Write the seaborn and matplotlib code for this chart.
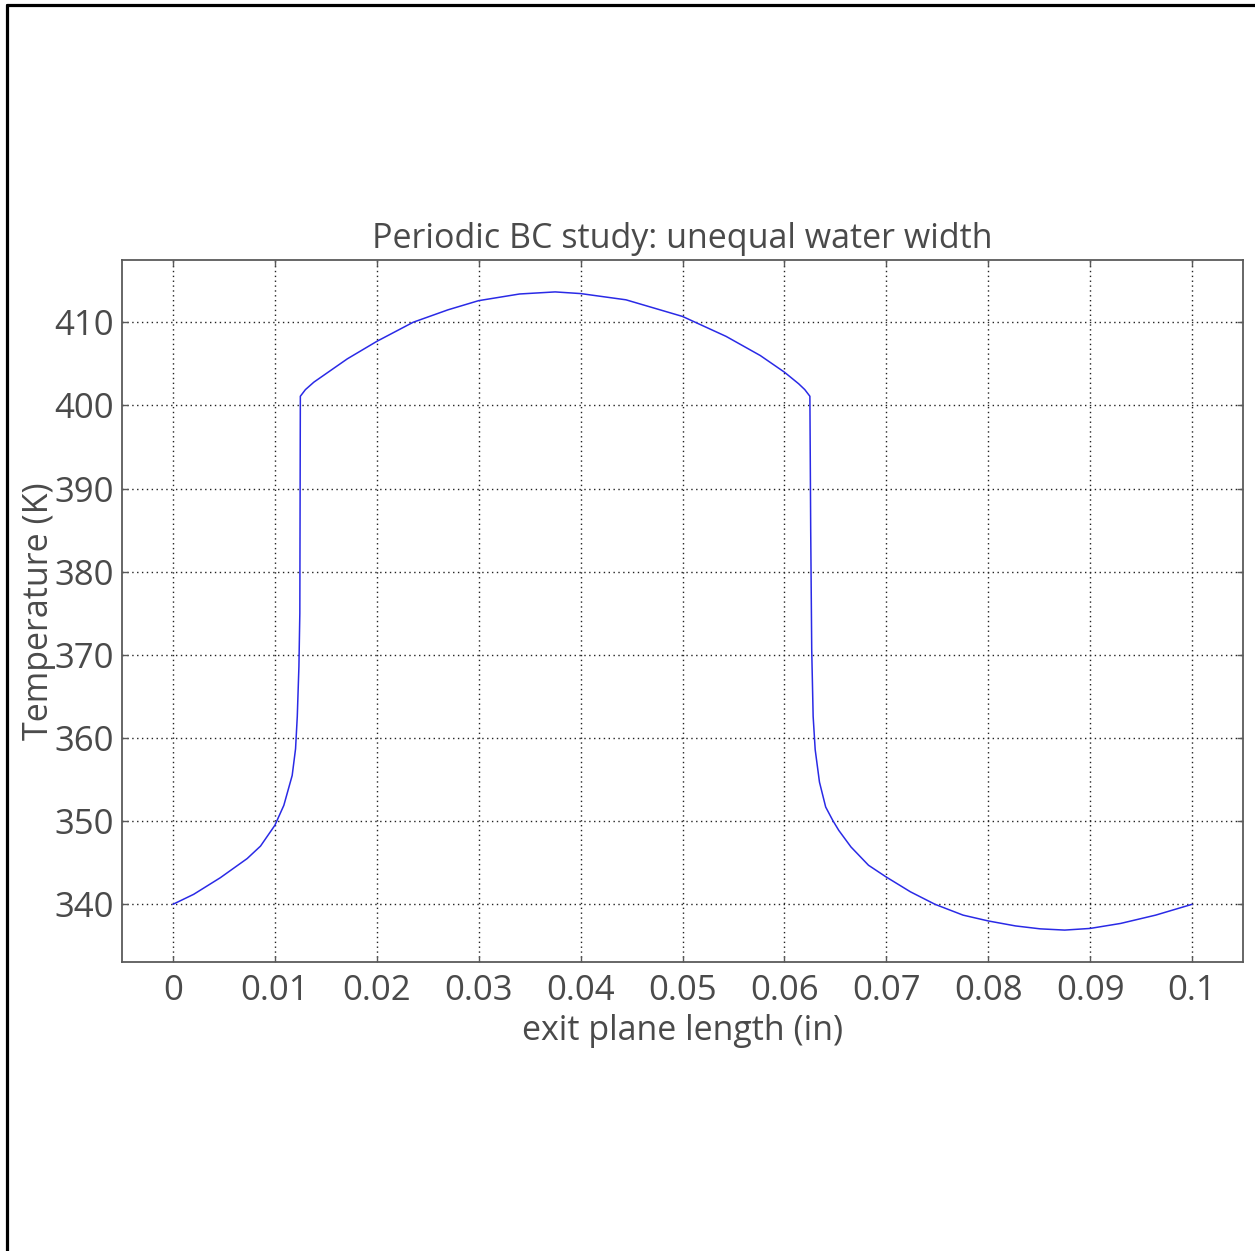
import matplotlib
matplotlib.use("Agg")
import matplotlib.pyplot as plt
from matplotlib.lines import Line2D
import seaborn as sns
import pandas as pd

# Data
x_in = [0.0, 0.00203, 0.00465, 0.00728, 0.00859, 0.0100, 0.01088, 0.0117,
        0.01203, 0.0122, 0.01236, 0.01245, 0.01250,
        0.01300, 0.01383, 0.01711, 0.0200, 0.02357, 0.0270, 0.0300, 0.03401, 0.0375,
        0.0400, 0.04445, 0.0500, 0.05428, 0.05763, 0.0600, 0.0614, 0.0620, 0.0625,
        0.06258, 0.06268, 0.06282, 0.06302, 0.06344, 0.06405, 0.06474, 0.06533,
        0.06653, 0.06825, 0.06997, 0.07237, 0.07478, 0.07753, 0.0800, 0.08268,
        0.08509, 0.0875, 0.0900, 0.09299, 0.09643, 0.1000]
temp_k = [340.0, 341.2, 343.2, 345.5, 347.0, 349.5, 351.9, 355.5,
          358.7, 362.6, 368.6, 375.0, 401.1,
          401.9, 402.8, 405.6, 407.7, 410.0, 411.5, 412.6, 413.4, 413.65,
          413.45, 412.7, 410.7, 408.3, 406.0, 404.0, 402.6, 401.9, 401.1,
          385.0, 370.6, 362.6, 358.6, 354.7, 351.7, 350.1, 348.9,
          346.9, 344.7, 343.3, 341.5, 340.0, 338.7, 338.0, 337.4,
          337.05, 336.9, 337.1, 337.7, 338.7, 340.0]

x_ticks = [0, 0.01, 0.02, 0.03, 0.04, 0.05, 0.06, 0.07, 0.08, 0.09, 0.1]
x_tick_labels = ["0", "0.01", "0.02", "0.03", "0.04", "0.05", "0.06", "0.07", "0.08", "0.09", "0.1"]
y_ticks = [340, 350, 360, 370, 380, 390, 400, 410]
y_tick_labels = ["340", "350", "360", "370", "380", "390", "400", "410"]

title = "Periodic BC study: unequal water width"
x_label = "exit plane length (in)"
y_label = "Temperature (K)"

df = pd.DataFrame({"x": x_in, "T": temp_k})

sns.set_theme(style="white")
plt.rcParams["font.family"] = ["Open Sans", "DejaVu Sans"]

text_color = "#4a4a4a"
frame_color = "#5a5a5a"

fig = plt.figure(figsize=(12.55, 12.51), dpi=100)
ax = fig.add_axes([122 / 1255, 1 - 962 / 1251, (1243 - 122) / 1255, (962 - 260) / 1251])

sns.lineplot(data=df, x="x", y="T", ax=ax, sort=False, estimator=None,
             color="#2a2ae6", linewidth=1.1)

ax.margins(x=0.05, y=0.05)
ax.set_xticks(x_ticks)
ax.set_xticklabels(x_tick_labels)
ax.set_yticks(y_ticks)
ax.set_yticklabels(y_tick_labels)

ax.grid(True, linestyle=(0, (1, 2.5)), color="#222222", linewidth=1.0)
ax.set_axisbelow(True)

for sp in ax.spines.values():
    sp.set_color(frame_color)
    sp.set_linewidth(1.3)
    sp.set_visible(True)

ax.tick_params(axis="both", direction="in", length=4, width=1, color=frame_color,
               labelsize=25, labelcolor=text_color, top=True, right=True,
               bottom=True, left=True)
ax.tick_params(axis="x", pad=9)
ax.tick_params(axis="y", pad=6)

ax.set_title(title, fontsize=24.5, color=text_color, pad=9)
ax.set_xlabel(x_label, fontsize=24.5, color=text_color, labelpad=4)
ax.set_ylabel(y_label, fontsize=24.5, color=text_color)
ax.yaxis.set_label_coords(-0.059, 0.5)

# figure border on left and top edges
fig.add_artist(Line2D([7 / 1255, 7 / 1255], [0, 1 - 5 / 1251], transform=fig.transFigure,
                      color="black", linewidth=2.3))
fig.add_artist(Line2D([7 / 1255, 1], [1 - 5 / 1251, 1 - 5 / 1251], transform=fig.transFigure,
                      color="black", linewidth=2.3))

fig.savefig("out.png", dpi=100, facecolor="white")
